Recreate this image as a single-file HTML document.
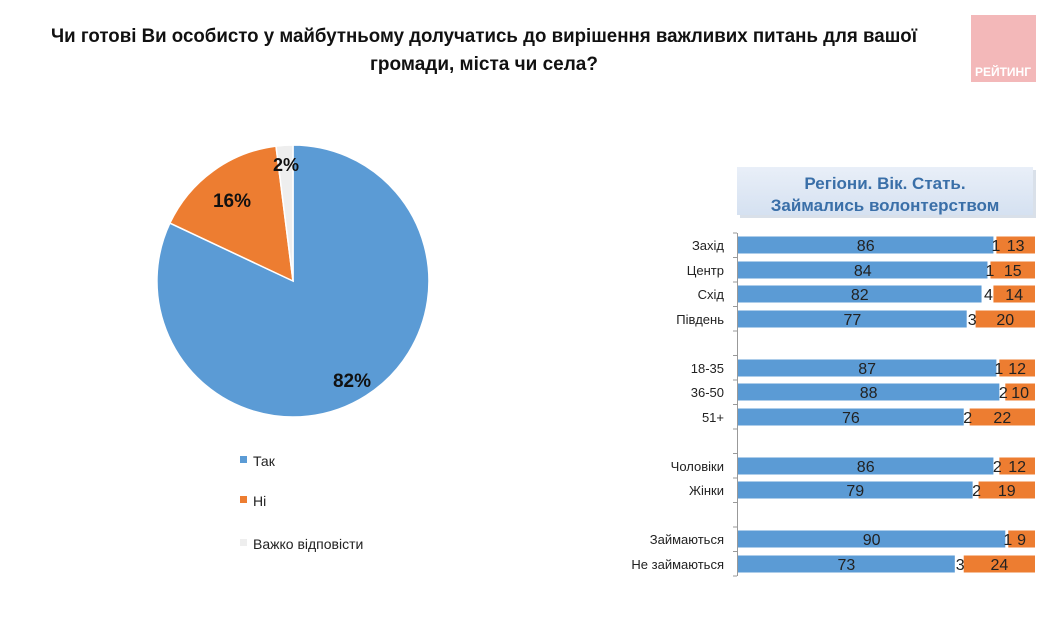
<!DOCTYPE html>
<html><head><meta charset="utf-8"><style>
body{margin:0;background:#fff;width:1050px;height:612px;overflow:hidden;font-family:"Liberation Sans",sans-serif}
.n{font-family:"Liberation Sans Narrow","Liberation Sans",sans-serif}
</style></head><body>
<svg width="1050" height="612" xmlns="http://www.w3.org/2000/svg" font-family="Liberation Sans, sans-serif">
<defs>
<linearGradient id="g" x1="0" y1="0" x2="0" y2="1"><stop offset="0" stop-color="#e9eff8"/><stop offset="1" stop-color="#d5e1f1"/></linearGradient>
</defs>
<text x="484" y="42" text-anchor="middle" font-size="19" font-weight="bold" fill="#111" textLength="866" lengthAdjust="spacingAndGlyphs">Чи готові Ви особисто у майбутньому долучатись до вирішення важливих питань для вашої</text>
<text x="484" y="70" text-anchor="middle" font-size="19" font-weight="bold" fill="#111">громади, міста чи села?</text>
<rect x="971" y="15" width="65" height="67" fill="#f3b8b9"/>
<text x="1003" y="76" text-anchor="middle" font-size="12" font-weight="bold" fill="#fff">РЕЙТИНГ</text>
<path d="M293,281 L293,145 A136,136 0 1 1 169.9,223.1 Z" fill="#5b9bd5" stroke="#fff" stroke-width="1.5"/>
<path d="M293,281 L169.9,223.1 A136,136 0 0 1 276,146.1 Z" fill="#ed7d31" stroke="#fff" stroke-width="1.5"/>
<path d="M293,281 L276,146.1 A136,136 0 0 1 293,145 Z" fill="#eeeeee" stroke="#fff" stroke-width="1.5"/>
<text x="352" y="387" text-anchor="middle" font-size="19" font-weight="bold" fill="#111" class="n">82%</text>
<text x="232" y="207" text-anchor="middle" font-size="19" font-weight="bold" fill="#111" class="n">16%</text>
<text x="286" y="171" text-anchor="middle" font-size="18" font-weight="bold" fill="#111" class="n">2%</text>
<rect x="240" y="456" width="7" height="7" fill="#5b9bd5"/><text x="253" y="466" font-size="14" fill="#222" class="n">Так</text>
<rect x="240" y="496" width="7" height="7" fill="#ed7d31"/><text x="253" y="506" font-size="14" fill="#222" class="n">Ні</text>
<rect x="240" y="539" width="7" height="7" fill="#eeeeee"/><text x="253" y="549" font-size="14" fill="#222" class="n">Важко відповісти</text>
<rect x="740" y="170" width="296" height="48" fill="#c9d3e0" opacity="0.7"/>
<rect x="737" y="167" width="296" height="48" fill="url(#g)"/>
<text x="885" y="189" text-anchor="middle" font-size="17" font-weight="bold" fill="#3a6fa8" class="n">Регіони. Вік. Стать.</text>
<text x="885" y="211" text-anchor="middle" font-size="17" font-weight="bold" fill="#3a6fa8" class="n">Займались волонтерством</text>
<g id="bars" font-size="16" class="n"></g>
</svg>
<script>
var rows=[["Захід",86,1,13,245],["Центр",84,1,15,270],["Схід",82,4,14,294],["Південь",77,3,20,319],
["18-35",87,1,12,368],["36-50",88,2,10,392],["51+",76,2,22,417],
["Чоловіки",86,2,12,466],["Жінки",79,2,19,490],["Займаються",90,1,9,539],["Не займаються",73,3,24,564]];
var s="",x0=738,u=2.97;
s+='<line x1="737.5" y1="233" x2="737.5" y2="576" stroke="#999"/>';
for(var t=233;t<=577;t+=24.5)s+='<line x1="733" y1="'+t+'" x2="737" y2="'+t+'" stroke="#999"/>';
rows.forEach(function(r){var y=r[4],a=r[1]*u,b=r[2]*u,c=r[3]*u;
s+='<rect x="'+x0+'" y="'+(y-8.5)+'" width="'+a+'" height="17" fill="#5b9bd5"/>';
s+='<rect x="'+(x0+a+b)+'" y="'+(y-8.5)+'" width="'+c+'" height="17" fill="#ed7d31"/>';
s+='<text x="'+(x0+a/2)+'" y="'+(y+6)+'" text-anchor="middle" fill="#222">'+r[1]+'</text>';
s+='<text x="'+(x0+a+b/2+1)+'" y="'+(y+6)+'" text-anchor="middle" fill="#222">'+r[2]+'</text>';
s+='<text x="'+(x0+a+b+c/2)+'" y="'+(y+6)+'" text-anchor="middle" fill="#222">'+r[3]+'</text>';
s+='<text x="724" y="'+(y+5)+'" text-anchor="end" font-size="13" fill="#222">'+r[0]+'</text>';});
document.getElementById("bars").innerHTML=s;
</script>
</body></html>
